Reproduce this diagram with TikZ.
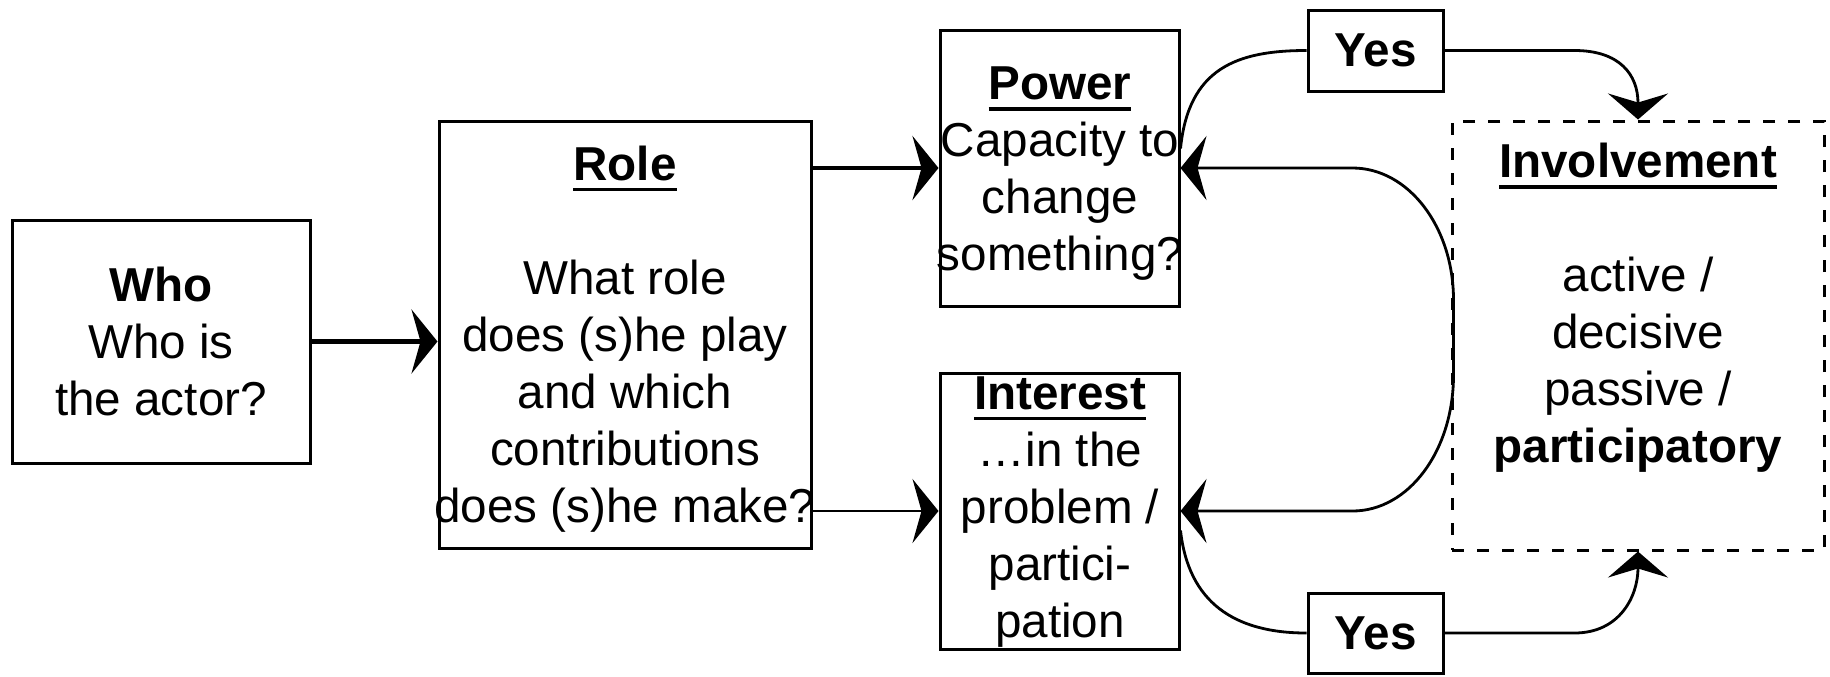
\documentclass[tikz,border=0pt]{standalone}
\usepackage{fontspec}
\setmainfont{Liberation Sans}
\usetikzlibrary{arrows.meta,calc}
\newcommand\ulb[1]{\setbox0\hbox{\textbf{#1}}\rlap{\rule[-5.4pt]{\wd0}{1.8pt}}\box0}
\begin{document}
\begin{tikzpicture}[x=0.5pt,y=-0.5pt,
  every node/.style={font=\fontsize{23.8pt}{28.5pt}\selectfont},
  box/.style={draw, line width=1.5pt, inner sep=0pt},
  txt/.style={align=center, inner sep=0pt},
  heavy/.style={line width=2.2pt, -{Stealth[length=13pt,width=32pt,inset=4.5pt]}},
  light/.style={line width=1pt, -{Stealth[length=13pt,width=32pt,inset=4.5pt]}},
  curve/.style={line width=1.4pt},
  curvearr/.style={line width=1.4pt, -{Stealth[length=13pt,width=30pt,inset=4.5pt]}},
  bothcurve/.style={line width=1.4pt, {Stealth[length=13pt,width=32pt,inset=4.5pt]}-{Stealth[length=13pt,width=32pt,inset=4.5pt]}}]
\useasboundingbox (0,0) rectangle (1830,676);

% boxes
\node[box, minimum width=149pt, minimum height=121.5pt] (who) at (161,341.5) {};
\node[box, minimum width=186pt, minimum height=213.5pt] (role) at (625,334.5) {};
\node[box, minimum width=119.5pt, minimum height=138pt] (power) at (1059.5,168) {};
\node[box, minimum width=119.5pt, minimum height=138pt] (interest) at (1059.5,511) {};
\node[box, minimum width=67.5pt, minimum height=40.5pt, font=\fontsize{23.8pt}{28.5pt}\selectfont\bfseries] (topyes) at (1375.5,50.5) {Yes};
\node[box, minimum width=67.5pt, minimum height=40pt, font=\fontsize{23.8pt}{28.5pt}\selectfont\bfseries] (botyes) at (1375.5,633) {Yes};
\node[draw, line width=1.5pt, dash pattern=on 6pt off 6.5pt, minimum width=186pt, minimum height=214.5pt, inner sep=0pt] (invol) at (1638,335.5) {};

% texts
\node[txt] (whoT) at (161,341) {\textbf{Who}\\Who is\\the actor?};
\node[txt] (roleT) at (625,339) {\ulb{Role}\\[28.5pt]What role\\does (s)he play\\and which\\contributions\\does (s)he make?};
\node[txt] (powerT) at (1060,174) {\ulb{Power}\\Capacity to\\change\\something?};
\node[txt] (interestT) at (1060,512) {\ulb{Interest}\\…in the\\problem /\\partici-\\pation};
\node[txt] (involT) at (1638,308) {\ulb{Involvement}\\[28.5pt]active /\\decisive\\passive /\\\textbf{participatory}};

% straight arrows
\draw[heavy] (who.east) -- (who.east -| role.west);
\draw[heavy] (role.east |- power.west) -- (power.west);
\draw[light] (role.east |- interest.west) -- (interest.west);

% curves
\draw[curve] ($(power.north east)!0.43!(power.south east)$) .. controls +(8,-80) and +(-70,0) .. (topyes.west);
\draw[bothcurve] (power.east) -- ++(172,0) .. controls +(56,0) and +(0,-73) .. ++(101,132) -- ++(0,75) .. controls +(0,76) and +(56,0) .. ($(interest.east)+(172,0)$) -- (interest.east);
\draw[curve] ($(interest.north east)!0.57!(interest.south east)$) .. controls +(8,72) and +(-72,0) .. (botyes.west);
\draw[curvearr] (topyes.east) -- ++(130,0) .. controls +(45,0) and +(0,-45) .. (invol.north);
\draw[curvearr] (botyes.east) -- ++(130,0) .. controls +(45,0) and +(0,45) .. (invol.south);
\end{tikzpicture}
\end{document}
